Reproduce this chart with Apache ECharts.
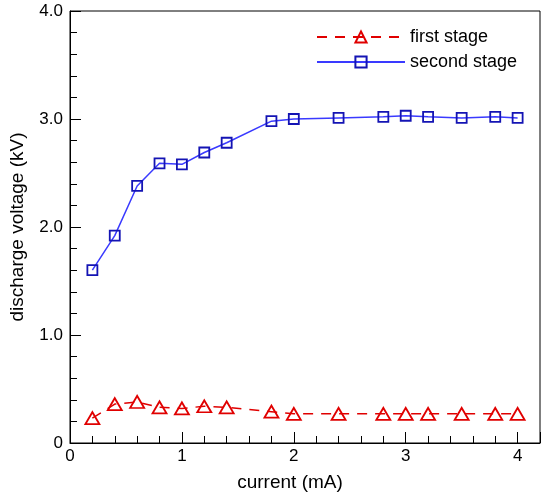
<!DOCTYPE html>
<html>
<head>
<meta charset="utf-8">
<script src="https://cdn.jsdelivr.net/npm/echarts@6/dist/echarts.min.js"></script>
<style>
  html, body { margin: 0; padding: 0; background: #fff; }
  #chart { width: 541px; height: 495px; }
</style>
</head>
<body>
<div id="chart"></div>
<script>
// Discharge current (mA)
var current = [0.2, 0.4, 0.6, 0.8, 1.0, 1.2, 1.4, 1.8, 2.0, 2.4, 2.8, 3.0, 3.2, 3.5, 3.8, 4.0];
// Discharge voltage (kV) per stage
var firstStage = [0.23, 0.36, 0.38, 0.33, 0.32, 0.34, 0.33, 0.29, 0.27, 0.27, 0.27, 0.27, 0.27, 0.27, 0.27, 0.27];
var secondStage = [1.60, 1.92, 2.38, 2.59, 2.58, 2.69, 2.78, 2.98, 3.00, 3.01, 3.02, 3.03, 3.02, 3.01, 3.02, 3.01];
var seriesNames = ['first stage', 'second stage'];

function pairs(xs, ys) {
  return xs.map(function (x, i) { return [x, ys[i]]; });
}

var FONT = '"Liberation Sans", Arial, sans-serif';

var chart = echarts.init(document.getElementById('chart'), null, { renderer: 'canvas' });
chart.setOption({
  animation: false,
  backgroundColor: '#fff',
  textStyle: { fontFamily: FONT },
  grid: {
    left: 70, top: 11, width: 470, height: 432,
    outerBoundsMode: 'none',
    containLabel: false,
    show: true, borderColor: '#000', borderWidth: 1, backgroundColor: 'transparent'
  },
  legend: {
    orient: 'vertical',
    left: 311, top: 23,
    itemWidth: 88, itemHeight: 14, itemGap: 7,
    textStyle: { fontSize: 18, color: '#000', fontFamily: FONT },
    data: seriesNames
  },
  xAxis: {
    type: 'value',
    min: 0, max: 4.2, interval: 1,
    name: 'current (mA)',
    nameLocation: 'middle',
    nameGap: 30,
    nameTextStyle: { fontSize: 19, color: '#000', padding: [0, 30, 0, 0] },
    axisLine: { show: true, lineStyle: { color: '#000', width: 1 } },
    axisTick: { show: true, inside: true, length: 11, lineStyle: { color: '#000' } },
    minorTick: { show: true, splitNumber: 5, length: 7, lineStyle: { color: '#000' } },
    splitLine: { show: false },
    axisLabel: { fontSize: 17, color: '#000', margin: 5, showMaxLabel: false }
  },
  yAxis: {
    type: 'value',
    min: 0, max: 4, interval: 1,
    name: 'discharge voltage (kV)',
    nameLocation: 'middle',
    nameGap: 43,
    nameTextStyle: { fontSize: 19, color: '#000' },
    axisLine: { show: true, lineStyle: { color: '#000', width: 1 } },
    axisTick: { show: true, inside: true, length: 11, lineStyle: { color: '#000' } },
    minorTick: { show: true, splitNumber: 5, length: 7, lineStyle: { color: '#000' } },
    splitLine: { show: false },
    axisLabel: {
      fontSize: 17, color: '#000', margin: 7,
      formatter: function (v) { return v === 0 ? '0' : v.toFixed(1); }
    }
  },
  series: [
    {
      name: seriesNames[0],
      type: 'line',
      data: pairs(current, firstStage),
      symbol: 'triangle',
      symbolSize: [14, 12],
      showAllSymbol: true,
      lineStyle: { color: '#e00000', width: 1.5, type: [10, 8] },
      itemStyle: { color: 'rgba(255,255,255,0)', borderColor: '#e00000', borderWidth: 1.8 },
      z: 3
    },
    {
      name: seriesNames[1],
      type: 'line',
      data: pairs(current, secondStage),
      symbol: 'rect',
      symbolSize: 10,
      showAllSymbol: true,
      lineStyle: { color: '#3a3aff', width: 1.5, type: 'solid' },
      itemStyle: { color: 'rgba(255,255,255,0)', borderColor: '#1414b4', borderWidth: 1.8 },
      z: 4
    }
  ]
});
</script>
</body>
</html>
